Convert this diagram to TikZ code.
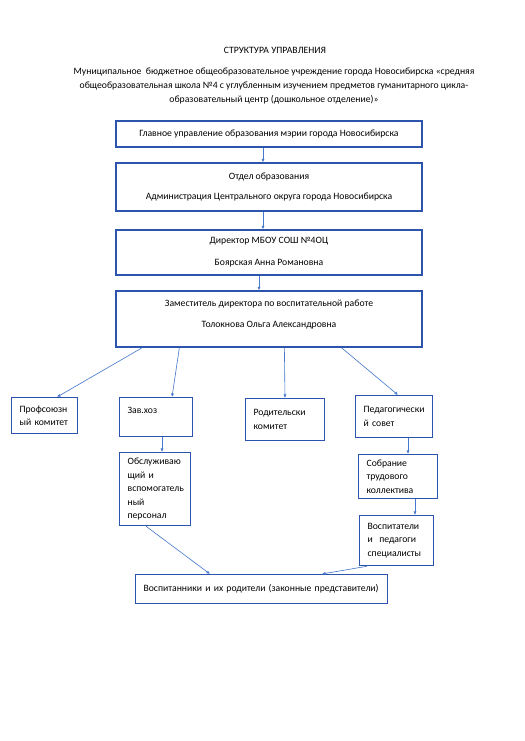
\documentclass[tikz,border=0pt]{standalone}
\usepackage{fontspec}
\setmainfont{Carlito}
\usetikzlibrary{arrows.meta,calc}
\newdimen\pxu \pxu=1.136pt
\definecolor{boxblue}{RGB}{44,84,172}
\definecolor{arrblue}{RGB}{70,120,205}
\begin{document}
\begin{tikzpicture}[x=1.136pt,y=-1.136pt,
  txt/.style={font=\fontsize{11pt}{13.4pt}\selectfont, inner sep=0pt},
  boxc/.style={draw=boxblue, line width=1.4pt, minimum width=306\pxu, inner sep=0pt,
     align=center, font=\fontsize{11pt}{13.4pt}\selectfont},
  lbox/.style={draw=boxblue, line width=1.4pt, anchor=north west, inner xsep=8\pxu,
     inner ysep=0pt, align=left, font=\fontsize{11pt}{15.3pt}\selectfont},
  arr/.style={draw=arrblue, line width=0.7pt, -{Latex[length=4pt,width=3.5pt]}}]
\useasboundingbox (0,0) rectangle (524,741);
\fill[white] (0,0) rectangle (524,741);

\node[txt] (title) at (275,50) {СТРУКТУРА УПРАВЛЕНИЯ};
\node[txt, align=center, font=\fontsize{11pt}{16pt}\selectfont] (sub) at (274,86)
  {Муниципальное\ \ бюджетное общеобразовательное учреждение города Новосибирска «средняя\\
   общеобразовательная школа №4 с углубленным изучением предметов гуманитарного цикла-\\
   образовательный центр (дошкольное отделение)»};

\node[boxc, minimum height=26\pxu] (b1) at (269,134) {Главное управление образования мэрии города Новосибирска};
\node[boxc, minimum height=48\pxu] (b2) at (269,187) {Отдел образования\\[9.5pt]Администрация Центрального округа города Новосибирска};
\node[boxc, minimum height=45\pxu] (b3) at (269,252.5) {Директор МБОУ СОШ №4ОЦ\\[11.5pt]Боярская Анна Романовна};
\node[boxc, minimum height=56\pxu] (b4) at (269,319) {Заместитель директора по воспитательной работе\\[10.5pt]Толокнова Ольга Александровна\\[-1pt]\mbox{}};

\node[lbox, text width=50\pxu, minimum height=36\pxu] (pk) at (11,397) {Профсоюзн\\ый комитет};
\node[lbox, text width=57\pxu, minimum height=39\pxu] (zh) at (119,397) {Зав.хоз\\\mbox{}};
\node[lbox, text width=55\pxu, minimum height=73\pxu] (ob) at (119,452) {Обслуживаю\\щий и\\вспомогатель\\ный\\персонал};
\node[lbox, text width=63\pxu, minimum height=42\pxu] (rk) at (245,398) {Родительски\\комитет};
\node[lbox, text width=61\pxu, minimum height=42\pxu] (ps) at (355,395) {Педагогически\\й совет};
\node[lbox, text width=63\pxu, minimum height=44\pxu] (st) at (358,454) {Собрание\\трудового\\коллектива};
\node[lbox, text width=58\pxu, minimum height=50\pxu] (vp) at (359,515) {Воспитатели\\и\ \ педагоги\\специалисты};
\node[lbox, text width=236\pxu, minimum height=29\pxu] (vr) at (135,574) {Воспитанники и их родители (законные представители)};

\draw[arr] ([xshift=-6\pxu]b1.south) -- ([xshift=-6\pxu]b2.north);
\draw[arr] ([xshift=-6\pxu]b2.south) -- ([xshift=-6\pxu]b3.north);
\draw[arr] ([xshift=-10\pxu]b3.south) -- ([xshift=-10\pxu]b4.north);

\draw[arr] ($(b4.south west)+(27,0)$) -- ($(pk.north west)+(46,0)$);
\draw[arr] ($(b4.south west)+(64,0)$) -- ($(zh.north west)+(53,0)$);
\draw[arr] ($(b4.south west)+(169,0)$) -- ($(rk.north west)+(40,0)$);
\draw[arr] ($(b4.south west)+(226,0)$) -- ($(ps.north west)+(43,0)$);

\draw[arr] ($(zh.south west)+(43,0)$) -- ($(ob.north west)+(43,0)$);
\draw[arr] ($(ps.south west)+(53,0)$) -- ($(st.north west)+(50,0)$);
\draw[arr] ($(st.south west)+(57,0)$) -- ($(vp.north west)+(56,0)$);

\draw[arr] ($(ob.south west)+(27,0)$) -- ($(vr.north west)+(75,0)$);
\draw[arr] ($(vp.south west)+(8,0)$) -- ($(vr.north west)+(187,0)$);
\end{tikzpicture}
\end{document}
